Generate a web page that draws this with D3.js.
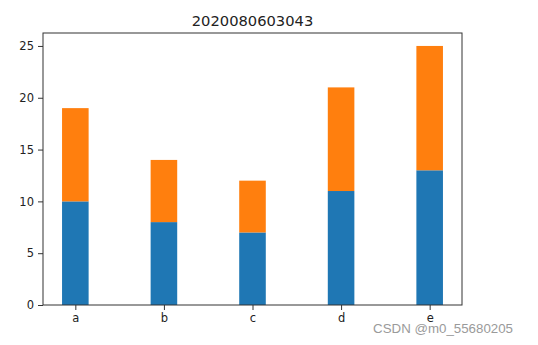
<!DOCTYPE html>
<html>
<head>
<meta charset="utf-8">
<script src="https://cdn.jsdelivr.net/npm/d3@7"></script>
<style>
  body { margin: 0; background: #fff; }
  text { font-family: "DejaVu Sans", sans-serif; fill: #222; }
</style>
</head>
<body>
<div id="chart"></div>
<script>
// data
const categories = ['a', 'b', 'c', 'd', 'e'];
const bottomVals = [10, 8, 7, 11, 13];
const topVals = [9, 6, 5, 10, 12];
const yTicks = [0, 5, 10, 15, 20, 25];
const title = '2020080603043';

const W = 538, H = 345;
const margin = { left: 43, right: 76, top: 33, bottom: 40 };
const barWidth = 0.3;

const svg = d3.select('#chart').append('svg')
  .attr('width', W).attr('height', H);

const x = d3.scaleLinear()
  .domain([-0.365, categories.length - 1 + 0.365])
  .range([margin.left, W - margin.right]);
const y = d3.scaleLinear()
  .domain([0, 26.25])
  .range([H - margin.bottom, margin.top]);

const bw = x(barWidth) - x(0);

// bottom series
svg.append('g').selectAll('rect')
  .data(bottomVals)
  .enter().append('rect')
  .attr('x', (d, i) => x(i) - bw / 2)
  .attr('width', bw)
  .attr('y', d => y(d))
  .attr('height', d => y(0) - y(d))
  .attr('fill', '#1f77b4');

// stacked series
svg.append('g').selectAll('rect')
  .data(topVals)
  .enter().append('rect')
  .attr('x', (d, i) => x(i) - bw / 2)
  .attr('width', bw)
  .attr('y', (d, i) => y(bottomVals[i] + d))
  .attr('height', (d, i) => y(bottomVals[i]) - y(bottomVals[i] + d))
  .attr('fill', '#ff7f0e');

// axes
const xAxis = d3.axisBottom(x)
  .tickValues(d3.range(categories.length))
  .tickFormat(i => categories[i])
  .tickSizeInner(5).tickSizeOuter(0).tickPadding(4);
const yAxis = d3.axisLeft(y)
  .tickValues(yTicks)
  .tickSizeInner(5).tickSizeOuter(0).tickPadding(4);

const gx = svg.append('g')
  .attr('transform', `translate(0,${H - margin.bottom})`)
  .call(xAxis);
const gy = svg.append('g')
  .attr('transform', `translate(${margin.left},0)`)
  .call(yAxis);

[gx, gy].forEach(g => {
  g.select('.domain').remove();
  g.selectAll('line').attr('stroke', '#333');
  g.selectAll('text').style('font-size', '11.5px').attr('fill', '#222');
});

// frame
svg.append('rect')
  .attr('x', margin.left).attr('y', margin.top)
  .attr('width', W - margin.right - margin.left)
  .attr('height', H - margin.bottom - margin.top)
  .attr('fill', 'none').attr('stroke', '#333').attr('stroke-width', 1);

svg.append('text')
  .attr('x', (margin.left + W - margin.right) / 2)
  .attr('y', 26)
  .attr('text-anchor', 'middle')
  .style('font-size', '14.7px')
  .text(title);

// watermark
svg.append('text')
  .attr('x', 513).attr('y', 333)
  .attr('text-anchor', 'end')
  .style('font-family', '"Liberation Sans", Arial, sans-serif')
  .style('font-size', '13.3px')
  .style('fill', '#9a9a9a')
  .text('CSDN @m0_55680205');
</script>
</body>
</html>
